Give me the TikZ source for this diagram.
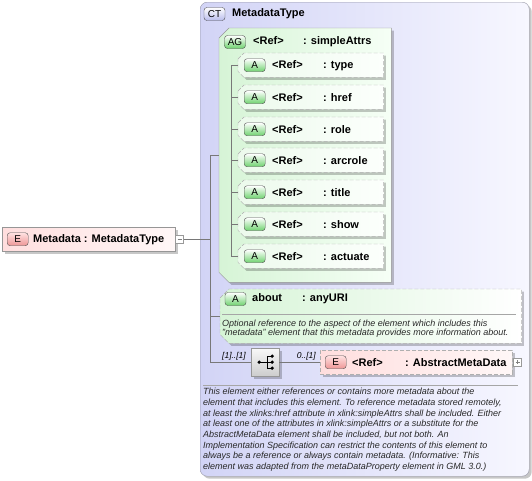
\documentclass[tikz,border=0pt]{standalone}
\usepackage{fontspec}
\setmainfont{Liberation Sans}
\usepackage{tikz}
\usetikzlibrary{shadows,positioning}

\definecolor{ctleft}{RGB}{210,212,246}
\definecolor{ctright}{RGB}{247,247,255}
\definecolor{ctline}{RGB}{150,150,165}
\definecolor{agleft}{RGB}{214,244,214}
\definecolor{agright}{RGB}{246,255,246}
\definecolor{attrleft}{RGB}{236,250,236}
\definecolor{attrright}{RGB}{252,255,252}
\definecolor{boxline}{RGB}{150,150,150}
\definecolor{dashline}{RGB}{175,175,175}
\definecolor{badgeline}{RGB}{80,80,80}
\definecolor{agreen}{RGB}{110,210,110}
\definecolor{epink}{RGB}{238,150,150}
\definecolor{epinklight}{RGB}{255,225,225}
\definecolor{ctbadge}{RGB}{185,188,236}
\definecolor{pinkleft}{RGB}{255,222,222}
\definecolor{pinkright}{RGB}{255,247,247}
\definecolor{seqtop}{RGB}{248,248,248}
\definecolor{seqbottom}{RGB}{205,205,205}
\definecolor{connline}{RGB}{120,120,120}
\definecolor{notetext}{RGB}{40,40,40}

\begin{document}
\begin{tikzpicture}[x=1pt, y=-1pt,
    conn/.style={draw=connline, line width=0.6pt},
    hdr/.style={font=\fontsize{11}{13}\selectfont\bfseries, inner sep=0pt},
    note/.style={font=\fontsize{9}{10.7}\selectfont\itshape, inner sep=0pt, align=left, text=notetext},
    occ/.style={font=\fontsize{8.5}{10}\selectfont\itshape, inner sep=0pt},
    boxshadow/.style={drop shadow={shadow xshift=2.5pt, shadow yshift=-2.5pt, fill=black, opacity=0.22}},
    badge/.style={draw=badgeline, rounded corners=3pt, minimum width=21pt, minimum height=13pt, inner sep=0pt, font=\fontsize{10}{11}\selectfont},
    abadge/.style={badge, top color=white, bottom color=agreen},
    ebadge/.style={badge, top color=epinklight, bottom color=epink},
    cbadge/.style={badge, top color=white, bottom color=ctbadge},
    agfill/.style={draw=boxline, left color=agleft, right color=agright, boxshadow},
    attrfill/.style={draw=dashline, dash pattern=on 4pt off 2pt, left color=attrleft, right color=attrright, boxshadow},
    aboutfill/.style={draw=dashline, dash pattern=on 4pt off 2pt, left color=agleft, right color=white, boxshadow},
    chamf/.style n args={2}{rectangle, inner sep=0pt, anchor=north west,
      append after command={\pgfextra{\path[#2] ([yshift=-#1]\tikzlastnode.north west) -- ([xshift=#1]\tikzlastnode.north west)
        -- (\tikzlastnode.north east) -- (\tikzlastnode.south east) -- ([xshift=#1]\tikzlastnode.south west)
        -- ([yshift=#1]\tikzlastnode.south west) -- cycle;}}},
    attrbox/.style={chamf={6pt}{attrfill}, minimum width=145pt, minimum height=24pt},
    elembox/.style={draw=boxline, left color=pinkleft, right color=pinkright, anchor=north west, inner sep=0pt, boxshadow},
    togglebox/.style={draw=gray!80, fill=white, minimum size=8pt, inner sep=0pt, anchor=west},
    togminus/.style={togglebox, path picture={\draw[gray] ([xshift=2pt]path picture bounding box.west) -- ([xshift=-2pt]path picture bounding box.east);}},
    togplus/.style={togglebox, path picture={\draw[gray] ([xshift=2pt]path picture bounding box.west) -- ([xshift=-2pt]path picture bounding box.east)
      ([yshift=-2pt]path picture bounding box.north) -- ([yshift=2pt]path picture bounding box.south);}}]
  \useasboundingbox (0,0) rectangle (532,480);

  % complex type
  \node[draw=ctline, rounded corners=7pt, left color=ctleft, right color=ctright, minimum width=329pt, minimum height=474pt, anchor=north west, inner sep=0pt, boxshadow] (mt) at (200,2) {};
  \node[cbadge] (mtb) at (214.5,14) {CT};
  \node[hdr, anchor=west] (mtname) at (232,14) {MetadataType};

  % root element
  \node[elembox, minimum width=173pt, minimum height=24pt] (md) at (2,227) {};
  \node[ebadge, right=5pt of md.west] (mdb) {E};
  \node[hdr, right=31pt of md.west] (mdname) {Metadata : MetadataType};
  \node[togminus] (mdtog) at (md.east) {};

  % attribute group
  \node[chamf={10pt}{agfill}, minimum width=172pt, minimum height=254pt] (ag) at (219,28) {};
  \node[abadge] (agb) at (235,42) {AG};
  \node[hdr, anchor=west] (agname) at (253,42) {\makebox[50pt][l]{<Ref>}: simpleAttrs};

  \node[attrbox] (a1) at (238,53) {};
  \node[abadge, right=6pt of a1.west] (a1b) {A};
  \node[hdr, right=34pt of a1.west] (a1t) {\makebox[51pt][l]{<Ref>}: type};
  \node[attrbox] (a2) at (238,85) {};
  \node[abadge, right=6pt of a2.west] (a2b) {A};
  \node[hdr, right=34pt of a2.west] (a2t) {\makebox[51pt][l]{<Ref>}: href};
  \node[attrbox] (a3) at (238,117) {};
  \node[abadge, right=6pt of a3.west] (a3b) {A};
  \node[hdr, right=34pt of a3.west] (a3t) {\makebox[51pt][l]{<Ref>}: role};
  \node[attrbox] (a4) at (238,148) {};
  \node[abadge, right=6pt of a4.west] (a4b) {A};
  \node[hdr, right=34pt of a4.west] (a4t) {\makebox[51pt][l]{<Ref>}: arcrole};
  \node[attrbox] (a5) at (238,180) {};
  \node[abadge, right=6pt of a5.west] (a5b) {A};
  \node[hdr, right=34pt of a5.west] (a5t) {\makebox[51pt][l]{<Ref>}: title};
  \node[attrbox] (a6) at (238,212) {};
  \node[abadge, right=6pt of a6.west] (a6b) {A};
  \node[hdr, right=34pt of a6.west] (a6t) {\makebox[51pt][l]{<Ref>}: show};
  \node[attrbox] (a7) at (238,244) {};
  \node[abadge, right=6pt of a7.west] (a7b) {A};
  \node[hdr, right=34pt of a7.west] (a7t) {\makebox[51pt][l]{<Ref>}: actuate};

  % about attribute
  \node[chamf={9pt}{aboutfill}, minimum width=301pt, minimum height=54pt] (about) at (220,289) {};
  \node[abadge] (aboutb) at (235.5,299) {A};
  \node[hdr, anchor=west] (aboutt) at (252,299) {\makebox[50pt][l]{about}: anyURI};
  \draw[gray!70] (222,314) -- (516,314);
  \node[note, font=\fontsize{9}{9.6}\selectfont\itshape, anchor=north west] (aboutn) at (222,319.5) {Optional reference to the aspect of the element which includes this\\"metadata" element that this metadata provides more information about.};

  % sequence and element reference
  \node[draw=boxline, top color=seqtop, bottom color=seqbottom, minimum width=28pt, minimum height=28pt, anchor=north west, inner sep=0pt, boxshadow] (seq) at (251,348) {};
  \begin{scope}[shift={(seq.center)}]
    \draw[line width=0.7pt] (-6,0) -- (2,0) (2,-6) -- (2,6) (2,-6) -- (7,-6) (2,6) -- (7,6) (2,0) -- (7,0);
    \fill (-6,0) circle (1.8pt) (7,-6) circle (1.8pt) (7,0) circle (1.8pt) (7,6) circle (1.8pt);
  \end{scope}
  \node[elembox, draw=dashline, dash pattern=on 4pt off 2pt, minimum width=192pt, minimum height=24pt] (abs) at (320,350) {};
  \node[ebadge, right=5pt of abs.west] (absb) {E};
  \node[hdr, right=32pt of abs.west] (abst) {\makebox[53pt][l]{<Ref>}: AbstractMetaData};
  \node[togplus] (abstog) at ([xshift=1pt]abs.east) {};
  \node[occ, anchor=south east] (seqocc) at ([xshift=-5pt,yshift=2pt]seq.west) {[1]..[1]};
  \node[occ, anchor=south east] (absocc) at ([xshift=-4pt,yshift=2pt]abs.west) {0..[1]};

  % documentation
  \draw[gray!70] (203,385) -- (518,385);
  \node[note, anchor=north west] (mtdoc) at (203,388) {This element either references or contains more metadata about the\\element that includes this element. To reference metadata stored remotely,\\at least the xlinks:href attribute in xlink:simpleAttrs shall be included. Either\\at least one of the attributes in xlink:simpleAttrs or a substitute for the\\AbstractMetaData element shall be included, but not both. An\\Implementation Specification can restrict the contents of this element to\\always be a reference or always contain metadata. (Informative: This\\element was adapted from the metaDataProperty element in GML 3.0.)};

  % connectors
  \coordinate (spine) at (210,0);
  \coordinate (agspine) at (231,0);
  \draw[conn] (mdtog.east) -- (mdtog.east -| spine);
  \draw[conn] (ag.west) -| (spine |- seq.west) -- (seq.west);
  \draw[conn] (about.west) -- (about.west -| spine);
  \draw[conn] (seq.east) -- (abs.west);
  \draw[conn] (a1.west) -| (agspine |- a7.west) -- (a7.west);
  \draw[conn] (a2.west) -- (a2.west -| agspine);
  \draw[conn] (a3.west) -- (a3.west -| agspine);
  \draw[conn] (a4.west) -- (a4.west -| agspine);
  \draw[conn] (a5.west) -- (a5.west -| agspine);
  \draw[conn] (a6.west) -- (a6.west -| agspine);
\end{tikzpicture}
\end{document}
